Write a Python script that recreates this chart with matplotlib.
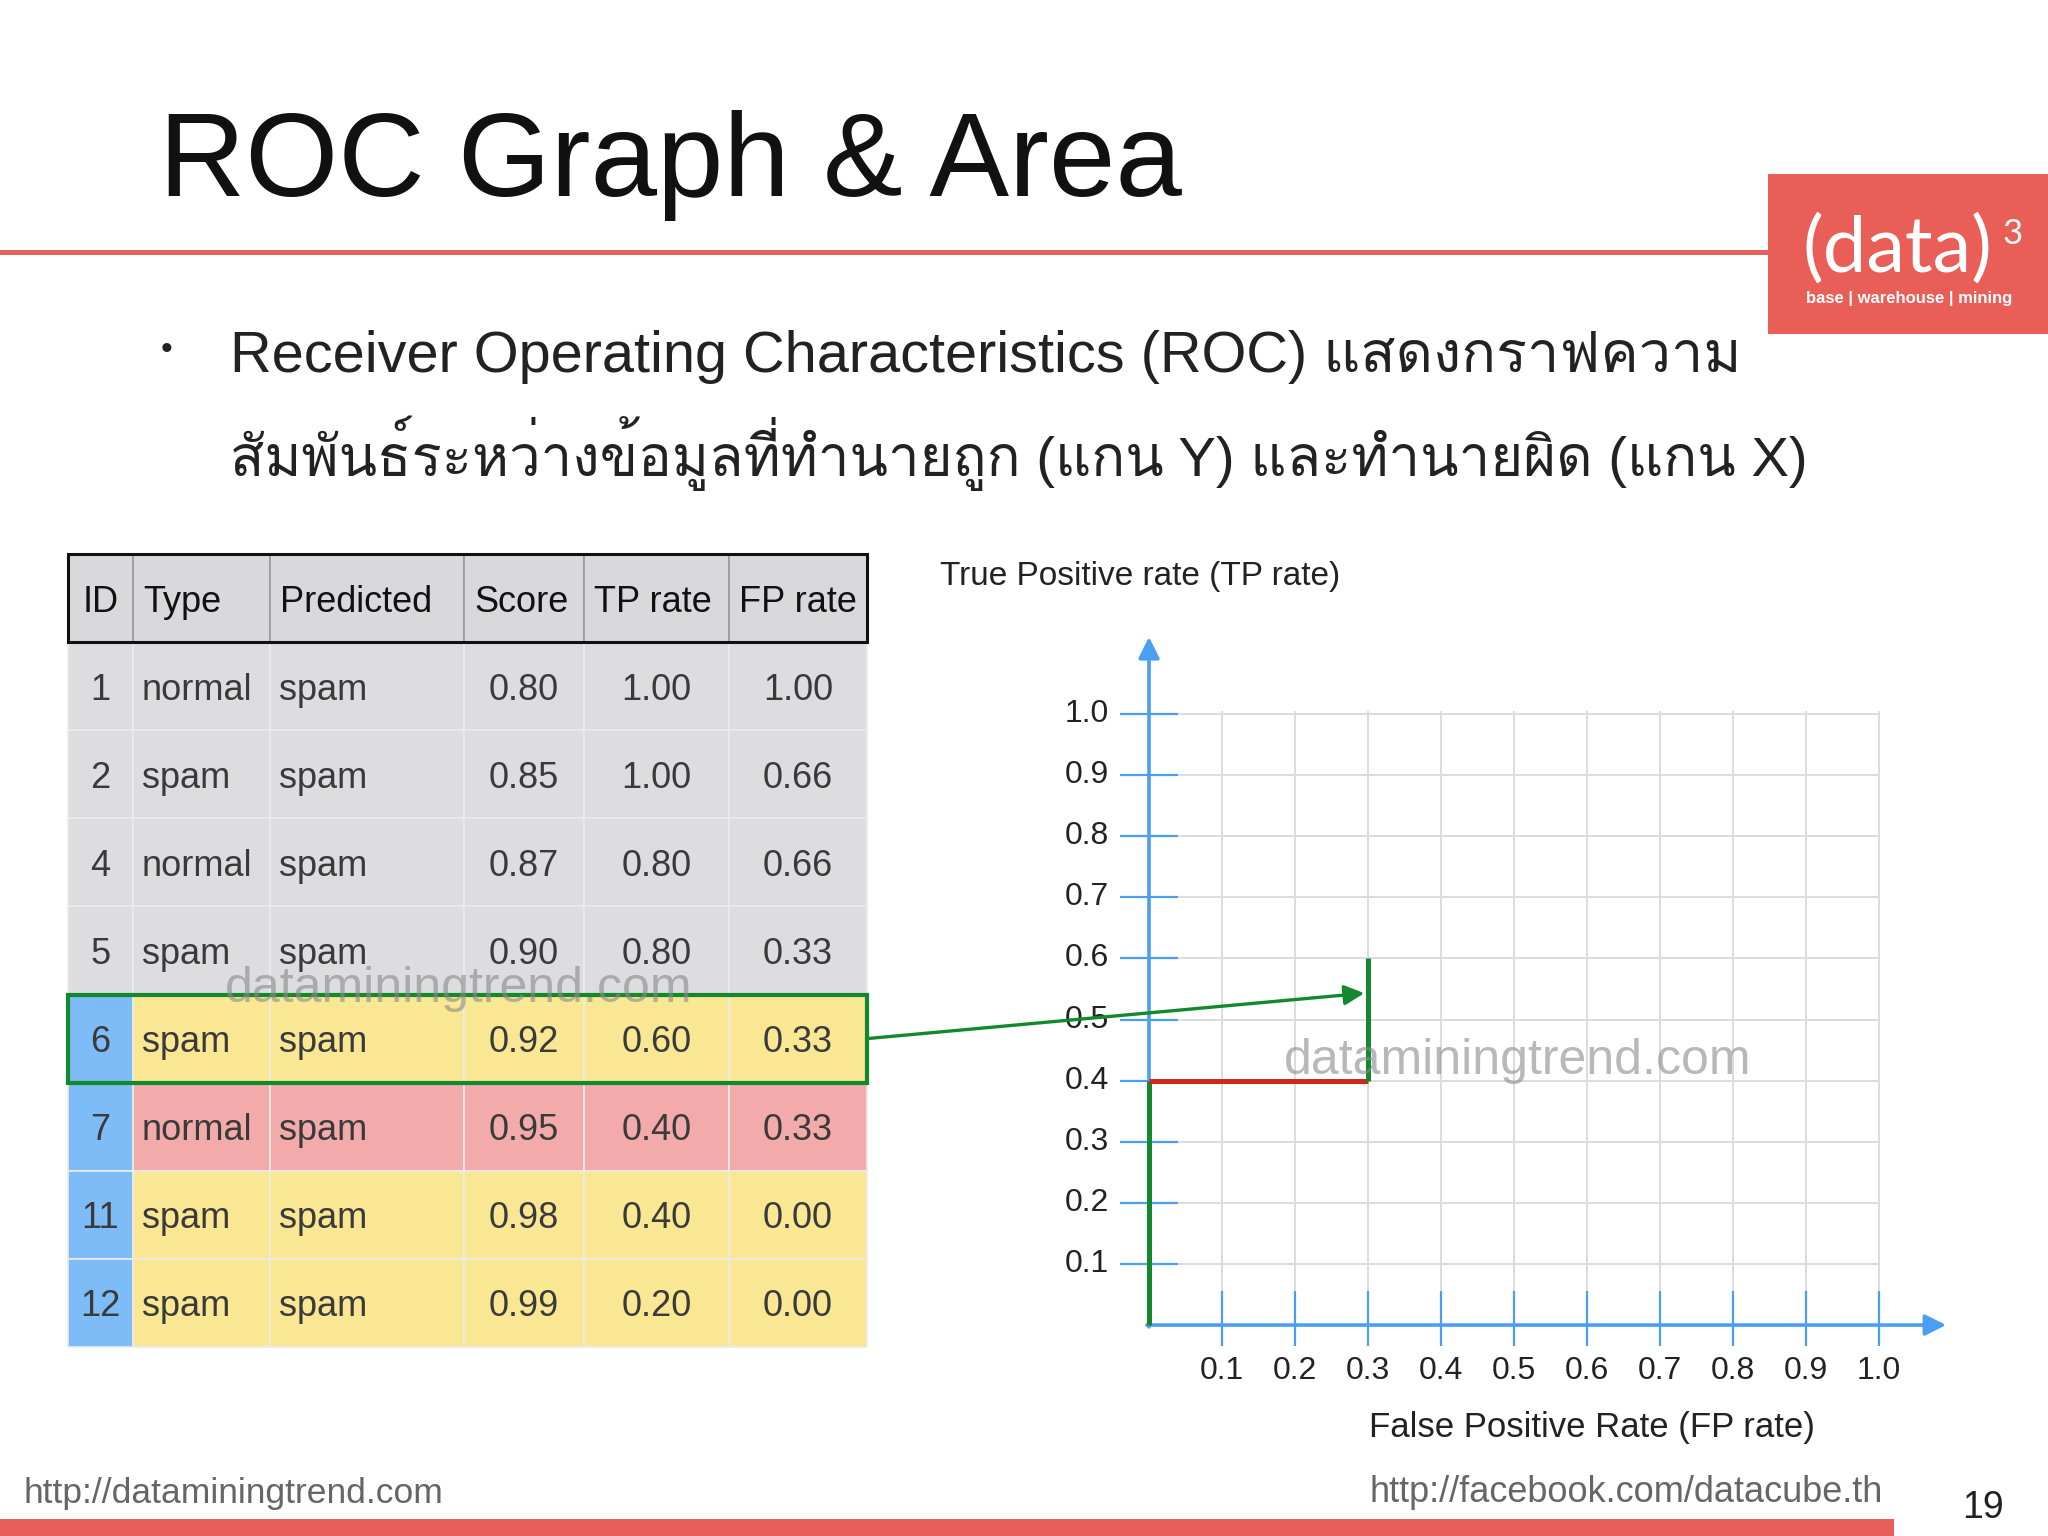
import matplotlib
matplotlib.use('Agg')
import matplotlib.pyplot as plt
from matplotlib import font_manager
from matplotlib.ft2font import FT2Font
from matplotlib.patches import Rectangle, ConnectionPatch


def find_thai_font():
    # pick the first installed font that has Thai glyphs
    for f in font_manager.fontManager.ttflist:
        try:
            if 0x0E01 in FT2Font(f.fname).get_charmap():
                return f.name
        except Exception:
            pass
    return 'DejaVu Sans'


THAI = find_thai_font()
FONT = ['Liberation Sans', THAI, 'DejaVu Sans']
plt.rcParams['font.family'] = FONT

# table data
columns = ['ID', 'Type', 'Predicted', 'Score', 'TP rate', 'FP rate']
ids = ['1', '2', '4', '5', '6', '7', '11', '12']
types = ['normal', 'spam', 'normal', 'spam', 'spam', 'normal', 'spam', 'spam']
predicted = ['spam', 'spam', 'spam', 'spam', 'spam', 'spam', 'spam', 'spam']
scores = ['0.80', '0.85', '0.87', '0.90', '0.92', '0.95', '0.98', '0.99']
tp_rate = ['1.00', '1.00', '0.80', '0.80', '0.60', '0.40', '0.40', '0.20']
fp_rate = ['1.00', '0.66', '0.66', '0.33', '0.33', '0.33', '0.00', '0.00']
row_fill = ['gray', 'gray', 'gray', 'gray', 'yellow', 'pink', 'yellow', 'yellow']
col_widths = [65, 137, 194, 120, 145, 138]
highlight_row = 4  # row of ID 6

# ROC path drawn so far
roc_fpr = [0.0, 0.0, 0.3, 0.3]
roc_tpr = [0.0, 0.4, 0.4, 0.6]
roc_seg_colors = ['#13892e', '#d0281a', '#13892e']
ticks = [0.1, 0.2, 0.3, 0.4, 0.5, 0.6, 0.7, 0.8, 0.9, 1.0]
tick_labels = ['0.1', '0.2', '0.3', '0.4', '0.5', '0.6', '0.7', '0.8', '0.9', '1.0']

fills = {'gray': '#dddcde', 'yellow': '#f9e793', 'pink': '#f2abaa'}
blue_id = '#7dbcf7'
axis_blue = '#4a9ff0'
green = '#13892e'
red_brand = '#ea5e58'

W, H = 2048, 1536
fig = plt.figure(figsize=(20.48, 15.36), dpi=100)


def fx(px):
    return px / W


def fy(py):
    return 1 - py / H


# slide background elements
bg = fig.add_axes([0, 0, 1, 1])
bg.set_xlim(0, W)
bg.set_ylim(H, 0)
bg.axis('off')
bg.axhline(252, xmin=0, xmax=1770 / W, color='#e8605a', lw=3.6)
bg.add_patch(Rectangle((1768, 174), 280, 160, color=red_brand, lw=0))
bg.add_patch(Rectangle((0, 1519), 1894, 17, color=red_brand, lw=0))

fig.text(fx(159), fy(196), 'ROC Graph & Area', fontsize=86, color='#111111',
         va='baseline', ha='left')
fig.text(fx(1897), fy(250), '(data)', fontsize=56, color='white',
         ha='center', va='center', family=['Lato', 'DejaVu Sans'])
fig.text(fx(2013), fy(234), '3', fontsize=25, color='white',
         ha='center', va='center', family=['Lato', 'DejaVu Sans'])
fig.text(fx(1909), fy(299), 'base | warehouse | mining', fontsize=12, color='white',
         ha='center', va='center', weight='bold')

fig.text(fx(167), fy(350), '\u2022', fontsize=24, color='#222222', ha='center', va='center')
fig.text(fx(230), fy(372), 'Receiver Operating Characteristics (ROC) แสดงกราฟความ',
         fontsize=41.5, color='#222222', va='baseline', ha='left')
fig.text(fx(230), fy(476), 'สัมพันธ์ระหว่างข้อมูลที่ทำนายถูก (แกน Y) และทำนายผิด (แกน X)',
         fontsize=40.5, color='#222222', va='baseline', ha='left')

fig.text(fx(24), fy(1493), 'http://dataminingtrend.com', fontsize=25.5, color='#666666',
         ha='left', va='center')
fig.text(fx(1883), fy(1493), 'http://facebook.com/datacube.th', fontsize=26, color='#666666',
         ha='right', va='center')
fig.text(fx(1983), fy(1508), '19', fontsize=27, color='#222222', ha='center', va='center')

# table
tab_ax = fig.add_axes([fx(68), fy(1347), 799 / W, 793 / H])
tab_ax.axis('off')
cell_text = [list(r) for r in zip(ids, types, predicted, scores, tp_rate, fp_rate)]
cell_colours = []
for i, f in enumerate(row_fill):
    row = [fills[f]] * len(columns)
    if f != 'gray':
        row[0] = blue_id
    cell_colours.append(row)
tab = tab_ax.table(cellText=cell_text, cellColours=cell_colours, colLabels=columns,
                   colColours=['#d9d8da'] * len(columns), colWidths=col_widths,
                   cellLoc='center', colLoc='left', bbox=[0, 0, 1, 1])
tab.auto_set_font_size(False)
tab.set_fontsize(26)
for (r, c), cell in tab.get_celld().items():
    cell.set_linewidth(1.2)
    txt = cell.get_text()
    txt.set_verticalalignment('center_baseline')
    if r == 0:
        cell.set_edgecolor('#9a9a9a')
        txt.set_color('#111111')
        cell.PAD = 10 / col_widths[c]
        if c == 0:
            txt.set_horizontalalignment('center')
    else:
        cell.set_edgecolor('#ebebeb')
        txt.set_color('#3a3a3a')
        if c in (1, 2):
            txt.set_horizontalalignment('left')
            cell.PAD = 9 / col_widths[c]
n_rows = len(ids) + 1
tab_ax.add_patch(Rectangle((0, 1 - 1 / n_rows), 1, 1 / n_rows, fill=False,
                           edgecolor='#111111', lw=2.2, transform=tab_ax.transAxes,
                           clip_on=False, zorder=5))
tab_ax.add_patch(Rectangle((0, 1 - (highlight_row + 2) / n_rows), 1, 1 / n_rows,
                           fill=False, edgecolor=green, lw=3, transform=tab_ax.transAxes,
                           clip_on=False, zorder=5))

# ROC chart
ax = fig.add_axes([fx(1076), fy(1355.6), 949 / W, 733.3 / H])
ax.set_xlim(-0.1, 1.2)
ax.set_ylim(-0.05, 1.15)
ax.axis('off')
ax.hlines(ticks, 0.0, 1.0, color='#dcdcdc', lw=1.4, zorder=1)
ax.vlines(ticks, 0.05, 1.005, color='#dcdcdc', lw=1.4, zorder=1)
ax.hlines(ticks, -0.04, 0.04, color=axis_blue, lw=1.6, zorder=2)
ax.vlines(ticks, -0.035, 0.055, color=axis_blue, lw=1.6, zorder=2)
ax.annotate('', xy=(0, 1.126), xytext=(0, -0.003),
            arrowprops=dict(arrowstyle='-|>', color=axis_blue, lw=2.6, mutation_scale=32,
                            shrinkA=0, shrinkB=0), zorder=3)
ax.annotate('', xy=(1.092, 0), xytext=(-0.003, 0),
            arrowprops=dict(arrowstyle='-|>', color=axis_blue, lw=2.6, mutation_scale=32,
                            shrinkA=0, shrinkB=0), zorder=3)
for t, lab in zip(ticks, tick_labels):
    ax.text(-0.055, t, lab, ha='right', va='center', fontsize=23, color='#222222')
    ax.text(t, -0.075, lab, ha='center', va='center', fontsize=23, color='#222222')
for i, col in enumerate(roc_seg_colors):
    ax.plot(roc_fpr[i:i + 2], roc_tpr[i:i + 2], color=col, lw=3.6,
            solid_capstyle='butt', zorder=4)

fig.text(fx(940), fy(576), 'True Positive rate (TP rate)', fontsize=24, color='#222222',
         ha='left', va='center')
fig.text(fx(1592), fy(1428), 'False Positive Rate (FP rate)', fontsize=25, color='#222222',
         ha='center', va='center')

# arrow from highlighted row to the chart
con = ConnectionPatch(xyA=(1, 1 - (highlight_row + 1.5) / n_rows), coordsA=tab_ax.transAxes,
                      xyB=(0.295, 0.543), coordsB=ax.transData, arrowstyle='-|>',
                      color=green, lw=2.4, mutation_scale=30, shrinkA=0, shrinkB=0, zorder=6)
fig.add_artist(con)

# watermarks
for wx, wy in [(225, 989), (1284, 1061)]:
    fig.text(fx(wx), fy(wy), 'dataminingtrend.com', fontsize=36, color='#8a8a8a',
             alpha=0.6, ha='left', va='center', zorder=7)

fig.savefig('out.png', dpi=100)
